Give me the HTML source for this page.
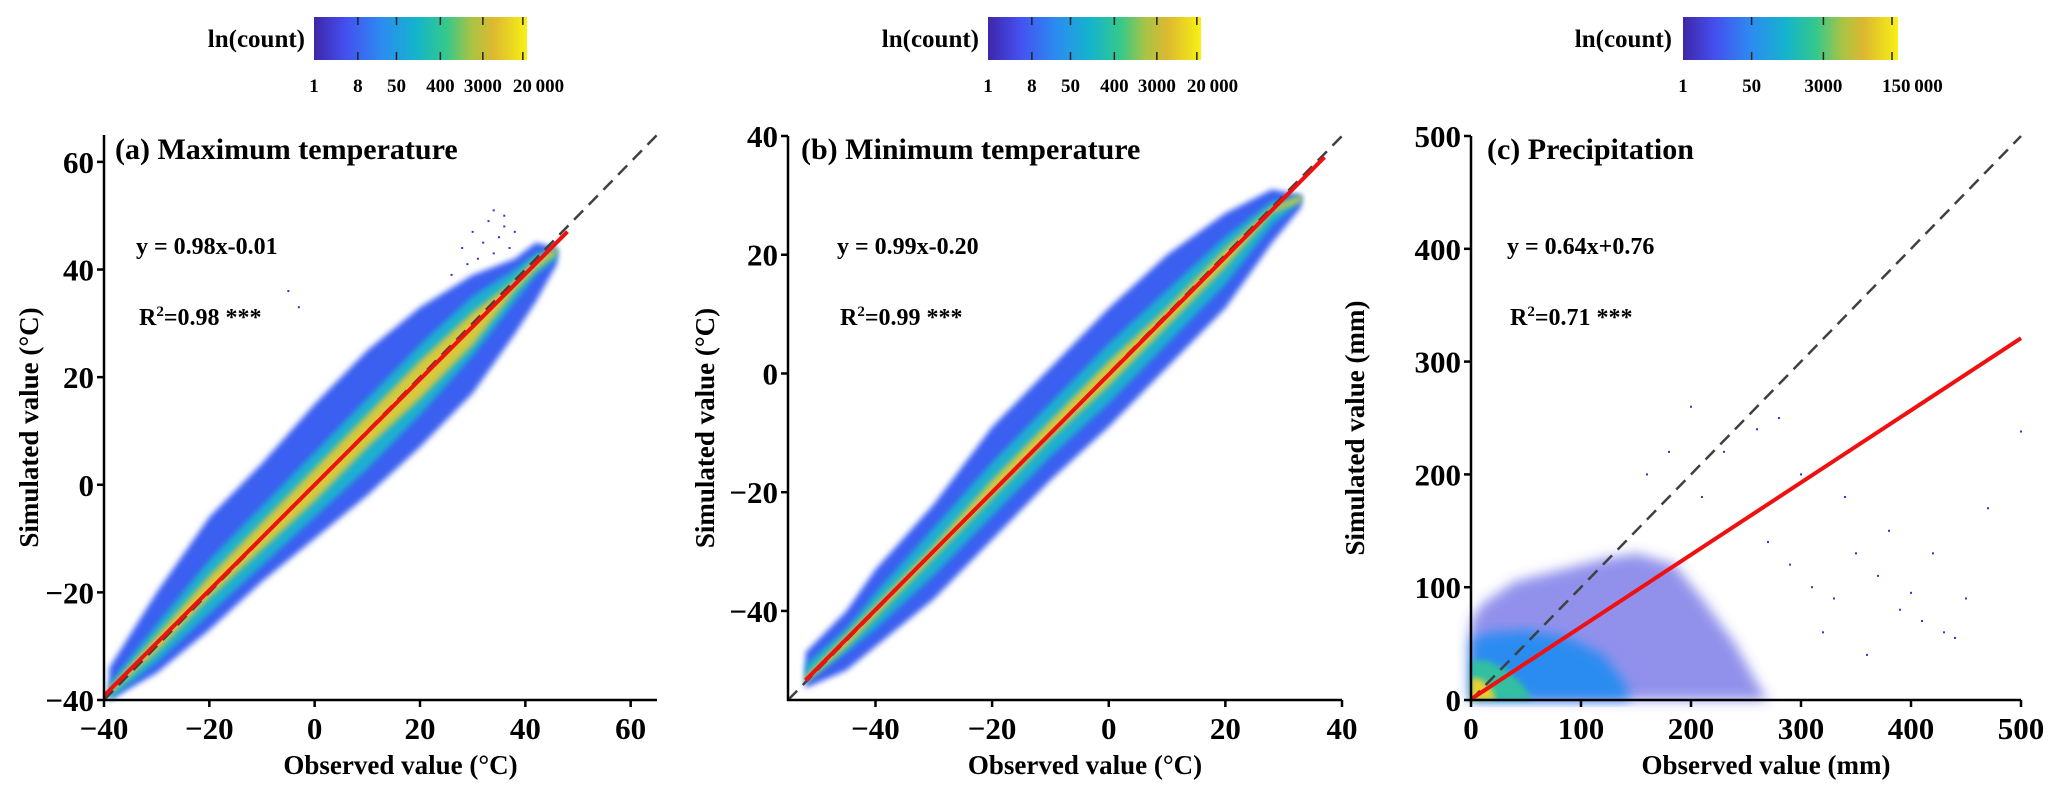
<!DOCTYPE html>
<html><head><meta charset="utf-8">
<style>
html,body{margin:0;padding:0;background:#fff;}
svg{display:block;font-family:"Liberation Serif",serif;font-weight:bold;}
</style></head>
<body>
<svg id="fig" width="2067" height="802" viewBox="0 0 2067 802" xmlns="http://www.w3.org/2000/svg">
<defs>
<linearGradient id="parula" x1="0" y1="0" x2="1" y2="0">
<stop offset="0" stop-color="#3e26a8"/><stop offset="0.15" stop-color="#4450f0"/>
<stop offset="0.32" stop-color="#2c8cf0"/><stop offset="0.48" stop-color="#14b4cc"/>
<stop offset="0.62" stop-color="#34c88c"/><stop offset="0.74" stop-color="#a8c444"/>
<stop offset="0.84" stop-color="#dcb830"/><stop offset="1" stop-color="#f8f014"/>
</linearGradient>
<filter id="blur" x="-10%" y="-10%" width="120%" height="120%"><feGaussianBlur stdDeviation="3"/></filter>
<filter id="blur2" x="-10%" y="-10%" width="120%" height="120%"><feGaussianBlur stdDeviation="6"/></filter>
</defs>
</svg>
<script>
// ---------- data ----------
const aX      = [-39,-30,-20,-10,0,10,20,30,38,42,46];
const aOutUp  = [-34,-20,-6,4,15,25,33,39,42,45,44];
const aOutLo  = [-40,-35,-27,-18,-10,-2,7,17,28,34,41];
const aMidUp  = [-37,-26,-14,-4,6,16,26,35,40,43,44];
const aMidLo  = [-40,-33,-24,-15,-6,3,13,24,34,39,42];
const aCoreUp = [-38,-28,-17,-7,3,13,23,32,38,42,44];
const aCoreLo = [-39,-31,-21,-12,-3,7,16,26,36,40,43];
const aSlope = 0.98, aIntercept = -0.01, aFitRange = [-40,48];
const aOutlierX = [28,30,32,33,34,35,36,37,38,34,31,29,36,-5,-3,26];
const aOutlierY = [44,47,45,49,51,46,48,44,47,43,42,41,50,36,33,39];

const bX      = [-52,-45,-40,-30,-20,-10,0,10,20,28,33];
const bOutUp  = [-47,-40,-33,-22,-9,1,11,20,27,31,30];
const bOutLo  = [-53,-50,-46,-38,-28,-18,-9,1,11,22,28];
const bMidUp  = [-49,-43,-37,-26,-15,-5,5,14,23,29,30];
const bMidLo  = [-52,-47,-43,-34,-24,-14,-5,5,15,25,29];
const bCoreUp = [-51,-44,-39,-29,-18,-8,2,11,21,28,30];
const bCoreLo = [-52,-46,-41,-31,-21,-11,-2,8,18,27,29];
const bSlope = 0.99, bIntercept = -0.20, bFitRange = [-52,37];

const cOutX  = [0,0,10,40,80,120,150,185,210,240,260,270];
const cOutY  = [0,70,85,105,115,125,130,120,90,50,15,0];
const cMidX  = [0,0,20,50,90,120,140,145];
const cMidY  = [0,55,60,62,55,40,15,0];
const cCoreX = [0,0,15,35,50,55];
const cCoreY = [0,35,35,25,10,0];
const cTopX  = [0,0,10,20,22];
const cTopY  = [0,20,18,8,0];
const cSparseX = [210,230,250,270,290,310,330,350,370,390,410,430,450,470,300,340,380,420,260,280,320,360,400,440,500,200,180,160];
const cSparseY = [180,220,160,140,120,100,90,130,110,80,70,60,90,170,200,180,150,130,240,250,60,40,95,55,238,260,220,200];
const cSlope = 0.64, cIntercept = 0.76, cFitRange = [0,500];

const aXTicks = [-40,-20,0,20,40,60], aYTicks = [-40,-20,0,20,40,60];
const bXTicks = [-40,-20,0,20,40], bYTicks = [-40,-20,0,20,40];
const cXTicks = [0,100,200,300,400,500], cYTicks = [0,100,200,300,400,500];
const cbTicksAB = [1,8,50,400,3000,20000];
const cbTicksC  = [1,50,3000,150000];

// ---------- helpers ----------
const NS="http://www.w3.org/2000/svg";
const svg=document.getElementById('fig');
function mk(tag,attrs,parent){const e=document.createElementNS(NS,tag);for(const k in attrs)e.setAttribute(k,attrs[k]);(parent||svg).appendChild(e);return e;}
function fmt(v){return v<0?'\u2212'+Math.abs(v):String(v);}

const panels=[
 {id:'a',x0:-40,x1:65,px0:104,px1:657,y0:-40,y1:65,py0:700,py1:135,xt:aXTicks,yt:aYTicks,
  title:'(a) Maximum temperature',eq:'y = 0.98x-0.01',r2:'=0.98 ***',tx:115,ex:136,
  xl:'Observed value (\u00B0C)',yl:'Simulated value (\u00B0C)',ylx:38,
  slope:aSlope,ic:aIntercept,fr:aFitRange},
 {id:'b',x0:-55,x1:40,px0:788,px1:1342,y0:-55,y1:40,py0:700,py1:136,xt:bXTicks,yt:bYTicks,
  title:'(b) Minimum temperature',eq:'y = 0.99x-0.20',r2:'=0.99 ***',tx:801,ex:837,
  xl:'Observed value (\u00B0C)',yl:'Simulated value (\u00B0C)',ylx:714,
  slope:bSlope,ic:bIntercept,fr:bFitRange},
 {id:'c',x0:0,x1:500,px0:1471,px1:2021,y0:0,y1:500,py0:700,py1:136,xt:cXTicks,yt:cYTicks,
  title:'(c) Precipitation',eq:'y = 0.64x+0.76',r2:'=0.71 ***',tx:1487,ex:1507,
  xl:'Observed value (mm)',yl:'Simulated value (mm)',ylx:1364,
  slope:cSlope,ic:cIntercept,fr:cFitRange}
];
panels.forEach(p=>{
  p.sx=v=>p.px0+(v-p.x0)/(p.x1-p.x0)*(p.px1-p.px0);
  p.sy=v=>p.py0+(v-p.y0)/(p.y1-p.y0)*(p.py1-p.py0);
});

function band(p,xs,up,lo,color,g,name,filt,op){
  let d='M'+xs.map((x,i)=>p.sx(x)+','+p.sy(up[i])).join('L');
  for(let i=xs.length-1;i>=0;i--) d+='L'+p.sx(xs[i])+','+p.sy(lo[i]);
  const e=mk('path',{d:d+'Z',fill:color,'fill-opacity':op||1,filter:'url(#'+(filt||'blur')+')'},g);
  
  
}
function poly(p,xs,ys,color,g,name,filt,op){
  const d='M'+xs.map((x,i)=>p.sx(x)+','+p.sy(ys[i])).join('L')+'Z';
  const e=mk('path',{d:d,fill:color,'fill-opacity':op||1,filter:'url(#'+(filt||'blur')+')'},g);
  
  
}
function dots(p,xs,ys,g,name){
  xs.forEach((x,i)=>{
    const e=mk('rect',{x:p.sx(x)-1,y:p.sy(ys[i])-1,width:2,height:2,fill:'#3a2fd0'},g);
    
    
  });
}

// ---------- panels ----------
panels.forEach(p=>{
  const g=mk('g',{});
  
  
  const dens=mk('g',{},g);
  
  
  if(p.id==='a'){
    band(p,aX,aOutUp,aOutLo,'#3a5ef0',dens,'density-outer');
    band(p,aX,aMidUp,aMidLo,'#1eb0d0',dens,'density-mid');
    band(p,aX,aCoreUp,aCoreLo,'#d8c83a',dens,'density-core');
    dots(p,aOutlierX,aOutlierY,dens,'outlier-point');
  } else if(p.id==='b'){
    band(p,bX,bOutUp,bOutLo,'#3a5ef0',dens,'density-outer');
    band(p,bX,bMidUp,bMidLo,'#1eb0d0',dens,'density-mid');
    band(p,bX,bCoreUp,bCoreLo,'#d8c83a',dens,'density-core');
  } else {
    poly(p,cOutX,cOutY,'#4a48e0',dens,'density-outer','blur2',0.6);
    poly(p,cMidX,cMidY,'#2c8cf0',dens,'density-mid','blur2');
    poly(p,cCoreX,cCoreY,'#30c0a0',dens,'density-core');
    poly(p,cTopX,cTopY,'#e8d030',dens,'density-peak');
    dots(p,cSparseX,cSparseY,dens,'sparse-point');
  }
  // 1:1 line
  const lo=Math.max(p.x0,p.y0), hi=Math.min(p.x1,p.y1);
  const dl=mk('line',{x1:p.sx(lo),y1:p.sy(lo),x2:p.sx(hi),y2:p.sy(hi),stroke:'#404040','stroke-width':2.5,'stroke-dasharray':'13,8'},g);
  
  
  // fit line
  const fl=mk('line',{x1:p.sx(p.fr[0]),y1:p.sy(p.slope*p.fr[0]+p.ic),x2:p.sx(p.fr[1]),y2:p.sy(p.slope*p.fr[1]+p.ic),stroke:'#f01010','stroke-width':4},g);
  
  
  // axes
  const ax=mk('path',{d:`M${p.px0},${p.py1}V${p.py0}H${p.px1}`,fill:'none',stroke:'#000','stroke-width':2.5},g);
  
  
  p.xt.forEach(v=>{
    const x=p.sx(v);
    const t=mk('line',{x1:x,y1:p.py0,x2:x,y2:p.py0+7,stroke:'#000','stroke-width':2.5},g);
    
    
    const l=mk('text',{x:x,y:p.py0+39,'text-anchor':'middle','font-size':31},g);
    l.textContent=fmt(v);
    
    
  });
  p.yt.forEach(v=>{
    const y=p.sy(v);
    const t=mk('line',{x1:p.px0-7,y1:y,x2:p.px0,y2:y,stroke:'#000','stroke-width':2.5},g);
    
    
    const l=mk('text',{x:p.px0-10,y:y+11,'text-anchor':'end','font-size':31},g);
    l.textContent=fmt(v);
    
    
  });
  const ti=mk('text',{x:p.tx,y:159,'font-size':30},g);
  ti.textContent=p.title;
  
  
  const eq=mk('text',{x:p.ex,y:254,'font-size':24},g);
  eq.textContent=p.eq;
  
  
  const r2=mk('text',{x:p.ex+3,y:325,'font-size':24},g);
  r2.innerHTML='R<tspan font-size="15" dy="-9">2</tspan><tspan dy="9">'+p.r2+'</tspan>';
  
  
  const xl=mk('text',{x:(p.px0+p.px1)/2+20,y:774,'text-anchor':'middle','font-size':27},g);
  xl.textContent=p.xl;
  
  
  const yc=(p.py0+p.py1)/2;
  const yl=mk('text',{x:0,y:0,'text-anchor':'middle','font-size':27,transform:`translate(${p.ylx},${yc+10}) rotate(-90)`},g);
  yl.textContent=p.yl;
  
  
});

// ---------- colorbars ----------
const cbs=[
 {x:314,w:213,max:10.1,ticks:cbTicksAB,lx:305},
 {x:988,w:213,max:10.1,ticks:cbTicksAB,lx:979},
 {x:1683,w:215,max:12.26,ticks:cbTicksC,lx:1672}
];
cbs.forEach((c,ci)=>{
  const g=mk('g',{});
  
  
  const r=mk('rect',{x:c.x,y:17,width:c.w,height:43,fill:'url(#parula)'},g);
  
  
  const lab=mk('text',{x:c.lx,y:47,'text-anchor':'end','font-size':25},g);
  lab.textContent='ln(count)';
  
  
  c.ticks.forEach((v,i)=>{
    const x=c.x+Math.log(v)/c.max*c.w;
    if(v>1){
      const t1=mk('line',{x1:x,y1:17,x2:x,y2:25,stroke:'#222','stroke-width':1.5},g);
      
      
      const t2=mk('line',{x1:x,y1:52,x2:x,y2:60,stroke:'#222','stroke-width':1.5},g);
      
      
    }
    const last=i===c.ticks.length-1;
    const l=mk('text',{x:last?x-10:x,y:92,'text-anchor':last?'start':'middle','font-size':19},g);
    l.textContent=v>=10000?String(v).replace(/(\d{3})$/,'\u2009$1'):String(v);
    
    
  });
});
</script>
</body></html>
